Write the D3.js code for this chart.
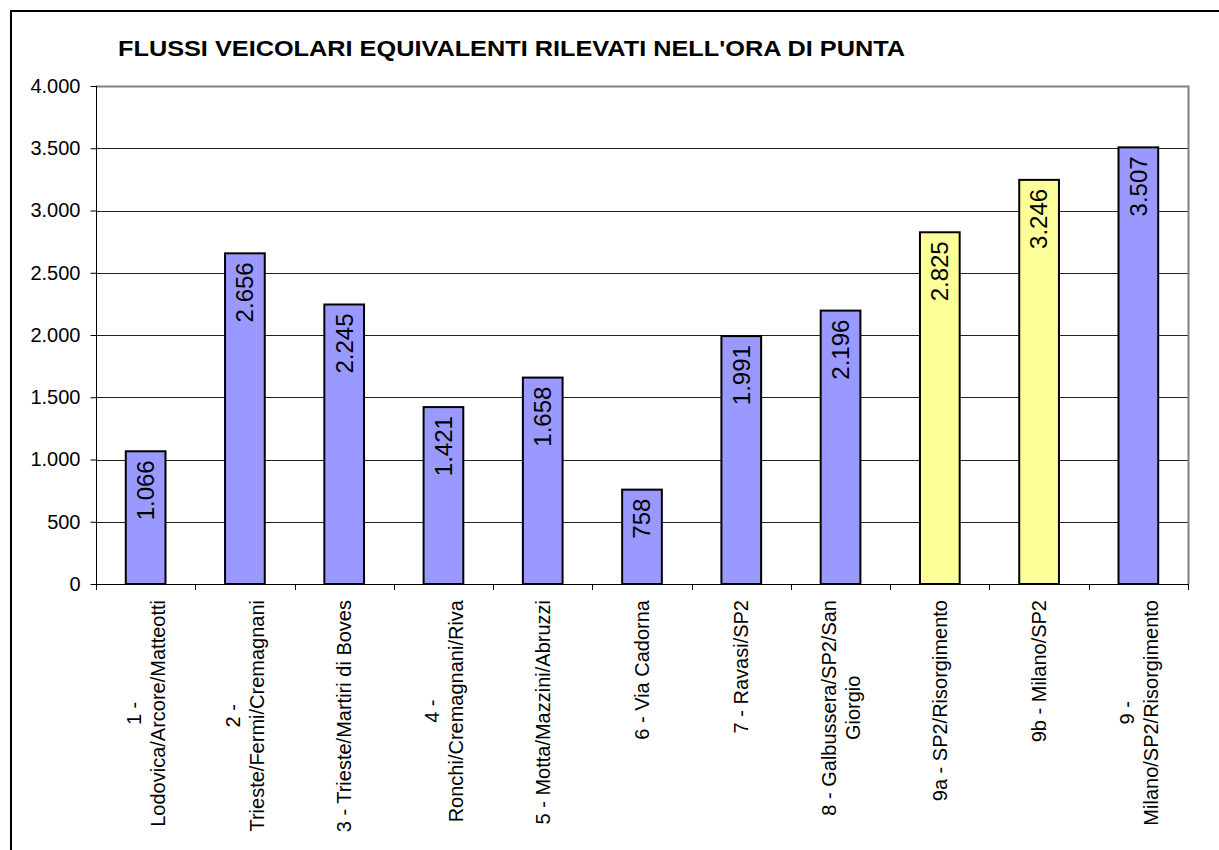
<!DOCTYPE html>
<html>
<head>
<meta charset="utf-8">
<script src="https://cdn.jsdelivr.net/npm/d3@7"></script>
<style>
  html, body { margin: 0; padding: 0; background: #fff; }
  svg { display: block; }
  text { font-family: "Liberation Sans", Arial, sans-serif; fill: #000; }
</style>
</head>
<body>
<svg id="chart" width="1219" height="850"></svg>
<script>
const titleText = "FLUSSI VEICOLARI EQUIVALENTI RILEVATI NELL'ORA DI PUNTA";
const categories = [
  ["1 -", "Lodovica/Arcore/Matteotti"],
  ["2 -", "Trieste/Fermi/Cremagnani"],
  ["3 - Trieste/Martiri di Boves"],
  ["4 -", "Ronchi/Cremagnani/Riva"],
  ["5 - Motta/Mazzini/Abruzzi"],
  ["6 - Via Cadorna"],
  ["7 - Ravasi/SP2"],
  ["8 - Galbussera/SP2/San", "Giorgio"],
  ["9a - SP2/Risorgimento"],
  ["9b - Milano/SP2"],
  ["9 -", "Milano/SP2/Risorgimento"]
];
const values = [1066, 2656, 2245, 1421, 1658, 758, 1991, 2196, 2825, 3246, 3507];
const highlighted = [false, false, false, false, false, false, false, false, true, true, false];
const yTicks = [0, 500, 1000, 1500, 2000, 2500, 3000, 3500, 4000];

const fmt = v => d3.format(",")(v).replace(/,/g, ".");

const svg = d3.select("#chart");
const L = 96, R = 1188, T = 86, B = 584;

// outer frame
svg.append("rect").attr("x", 11).attr("y", 11).attr("width", 1240).attr("height", 880)
  .attr("fill", "none").attr("stroke", "#000").attr("stroke-width", 2);

// title
svg.append("text").attr("x", 118).attr("y", 56)
  .attr("font-size", 22).attr("font-weight", "bold")
  .attr("textLength", 787).attr("lengthAdjust", "spacingAndGlyphs")
  .text(titleText);

const idx = values.map((d, i) => i);
const x = d3.scaleBand().domain(idx).range([L, R]).padding(0);
const y = d3.scaleLinear().domain([0, 4000]).range([B, T]);

// gridlines
svg.append("g").selectAll("line").data(yTicks.filter(t => t > 0 && t < 4000)).join("line")
  .attr("x1", L).attr("x2", R)
  .attr("y1", d => Math.round(y(d)) + 0.5).attr("y2", d => Math.round(y(d)) + 0.5)
  .attr("stroke", "#222").attr("stroke-width", 1);

// plot border top & right (gray)
svg.append("path")
  .attr("d", `M${L},${T + 0.5}H${R + 0.5}V${B}`)
  .attr("fill", "none").attr("stroke", "#808080").attr("stroke-width", 2);

// bars
const bw = x.step() * 0.4;
svg.append("g").selectAll("rect").data(idx).join("rect")
  .attr("x", i => x(i) + x.step() / 2 - bw / 2)
  .attr("width", bw)
  .attr("y", i => y(values[i]))
  .attr("height", i => y(0) - y(values[i]))
  .attr("fill", i => highlighted[i] ? "#FFFF99" : "#9999FF")
  .attr("stroke", "#000").attr("stroke-width", 2);

// value labels
svg.append("g").selectAll("text").data(idx).join("text")
  .attr("transform", i => `translate(${x(i) + x.step() / 2},${y(values[i]) + 9}) rotate(-90)`)
  .attr("text-anchor", "end")
  .attr("dy", "0.35em")
  .attr("font-size", 24)
  .text(i => fmt(values[i]));

// y axis
const yAxis = d3.axisLeft(y).tickValues(yTicks).tickFormat(fmt).tickSize(6).tickPadding(10);
const gy = svg.append("g").attr("transform", `translate(${L + 0.5},0)`).call(yAxis);
gy.select(".domain").remove();
gy.selectAll(".tick line").attr("stroke", "#000");
gy.selectAll(".tick text").attr("font-size", 20).attr("font-family", "Liberation Sans, Arial, sans-serif");
svg.append("line").attr("x1", L + 0.5).attr("x2", L + 0.5).attr("y1", T).attr("y2", B + 6)
  .attr("stroke", "#000");

// x axis
svg.append("line").attr("x1", L).attr("x2", R + 1).attr("y1", B + 0.5).attr("y2", B + 0.5)
  .attr("stroke", "#000");
const bounds = idx.map(i => x(i)).concat([R]);
svg.append("g").selectAll("line").data(bounds).join("line")
  .attr("x1", d => Math.round(d) + 0.5).attr("x2", d => Math.round(d) + 0.5)
  .attr("y1", B).attr("y2", B + 6).attr("stroke", "#000");

// category labels
const lh = 24;
const labG = svg.append("g");
idx.forEach(i => {
  const lines = categories[i];
  const g = labG.append("g")
    .attr("transform", `translate(${x(i) + x.step() / 2},600) rotate(-90)`);
  const texts = lines.map(s => g.append("text").attr("font-size", 20).attr("text-anchor", "middle").text(s));
  const maxW = d3.max(texts, t => t.node().getComputedTextLength());
  const n = lines.length;
  texts.forEach((t, k) => {
    t.attr("x", -maxW / 2).attr("y", (k - (n - 1) / 2) * lh + 7.2);
  });
});
</script>
</body>
</html>
